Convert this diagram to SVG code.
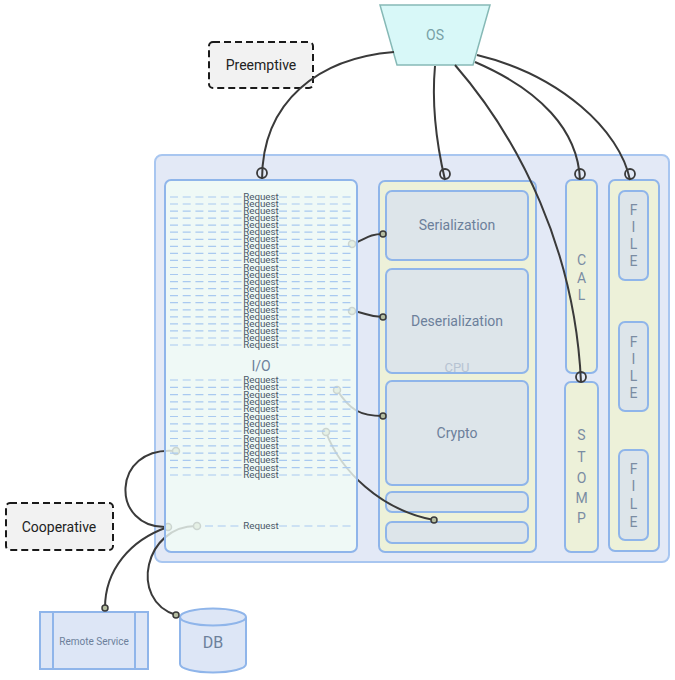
<svg xmlns="http://www.w3.org/2000/svg" width="675" height="680" viewBox="0 0 675 680">
<style>
text{font-family:Roboto,"Liberation Sans",sans-serif;}
.box{stroke:#8fb5ea;stroke-width:2;}
.yel{fill:#edf1d9;}
.inner{fill:#dde5ea;}
.lbl{fill:#6c809b;font-size:14px;text-anchor:middle;}
.vl{fill:#7a8ca3;font-size:14px;text-anchor:middle;}
.note{fill:#f2f2f2;stroke:#1a1a1a;stroke-width:2;stroke-dasharray:7 4;}
.notet{fill:#222;font-size:14px;text-anchor:middle;}
.con{fill:none;stroke:#3a3a3a;stroke-width:2;}
.ring{fill:none;stroke:#3a3a3a;stroke-width:1.8;}
.dot{fill:#b5bda0;stroke:#3a3a3a;stroke-width:1.5;}
.dash{stroke:#a9c9f0;stroke-width:1.2;stroke-dasharray:8 4.7;}
.req{fill:#4a5869;font-size:9.8px;text-anchor:middle;}
</style>

<g id="container">
<rect x="155" y="155" width="514" height="407" rx="7" fill="#e3e9f6" stroke="#a8c6f0" stroke-width="2"/>
</g>

<g id="os">
<polygon points="380,5 490,5 473,65 397,65" fill="#d8f8f8" stroke="#86b9b6" stroke-width="1.5"/>
<text x="435" y="40" fill="#77a0a6" font-size="14" text-anchor="middle">OS</text>
</g>

<g id="preemptive">
<rect x="209" y="42" width="104" height="46" rx="4" class="note"/>
<text x="261" y="70" class="notet">Preemptive</text>
</g>

<g id="cooperative">
<rect x="6" y="503" width="107" height="47" rx="4" class="note"/>
<text x="59" y="532" class="notet">Cooperative</text>
</g>

<g id="cpu">
<rect x="379" y="181" width="157" height="371" rx="6" class="box yel"/>
<g id="serialization">
<rect x="386" y="191" width="142" height="69" rx="6" class="box inner"/>
<text x="457" y="230" class="lbl">Serialization</text>
</g>
<g id="deserialization">
<rect x="386" y="269" width="142" height="104" rx="6" class="box inner"/>
<text x="457" y="326" class="lbl">Deserialization</text>
</g>
<g id="crypto">
<rect x="386" y="381" width="142" height="104" rx="6" class="box inner"/>
<text x="457" y="438" class="lbl">Crypto</text>
</g>
<g id="cpu-slot1">
<rect x="386" y="492" width="142" height="20" rx="6" class="box inner"/>
</g>
<g id="cpu-slot2">
<rect x="386" y="522" width="142" height="21" rx="6" class="box inner"/>
</g>
<text x="457" y="372" fill="#b6c3d2" font-size="13" text-anchor="middle">CPU</text>
</g>

<g id="cal">
<rect x="566" y="180" width="31" height="193" rx="6" class="box yel"/>
<text x="581.5" y="265" class="vl">C</text>
<text x="581.5" y="283" class="vl">A</text>
<text x="581.5" y="300" class="vl">L</text>
</g>
<g id="stomp">
<rect x="565" y="382" width="33" height="170" rx="6" class="box yel"/>
<text x="581.5" y="440" class="vl">S</text>
<text x="581.5" y="462" class="vl">T</text>
<text x="581.5" y="483" class="vl">O</text>
<text x="581.5" y="503" class="vl">M</text>
<text x="581.5" y="523" class="vl">P</text>
</g>
<g id="files">
<rect x="609" y="180" width="50" height="371" rx="6" class="box yel"/>
</g>
<g id="file1">
<rect x="619" y="191" width="29" height="89" rx="6" class="box inner"/>
<text x="633.5" y="215" class="vl">F</text>
<text x="633.5" y="232" class="vl">I</text>
<text x="633.5" y="249" class="vl">L</text>
<text x="633.5" y="266" class="vl">E</text>
</g>
<g id="file2">
<rect x="619" y="322" width="29" height="89" rx="6" class="box inner"/>
<text x="633.5" y="347" class="vl">F</text>
<text x="633.5" y="364" class="vl">I</text>
<text x="633.5" y="381" class="vl">L</text>
<text x="633.5" y="398" class="vl">E</text>
</g>
<g id="file3">
<rect x="619" y="450" width="29" height="90" rx="6" class="box inner"/>
<text x="633.5" y="474" class="vl">F</text>
<text x="633.5" y="491" class="vl">I</text>
<text x="633.5" y="509" class="vl">L</text>
<text x="633.5" y="527" class="vl">E</text>
</g>

<g id="remote-service">
<rect x="40" y="612" width="108" height="57" fill="#dde6f6" stroke="#8fb5ea" stroke-width="2"/>
<line x1="53" y1="612" x2="53" y2="669" stroke="#8fb5ea" stroke-width="2"/>
<line x1="135" y1="612" x2="135" y2="669" stroke="#8fb5ea" stroke-width="2"/>
<text x="94" y="645" fill="#6c809b" font-size="10" text-anchor="middle">Remote Service</text>
</g>

<g id="db">
<path d="M180 617 L180 664 A33 8.5 0 0 0 246 664 L246 617" fill="#dde6f6" stroke="#8fb5ea" stroke-width="2"/>
<ellipse cx="213" cy="617" rx="33" ry="8.5" fill="#dde6f6" stroke="#8fb5ea" stroke-width="2"/>
<text x="213" y="648" fill="#6c809b" font-size="16" text-anchor="middle">DB</text>
</g>

<g id="connectors">
<path class="con" d="M394 52 C320 58 262 100 262 180"/>
<circle class="ring" cx="262" cy="173" r="5"/>
<path class="con" d="M435 66 C431 110 438 150 445 180"/>
<circle class="ring" cx="445" cy="174" r="5"/>
<path class="con" d="M455 65 C520 140 575 250 581 382"/>
<circle class="ring" cx="581" cy="377" r="5"/>
<path class="con" d="M475 62 C540 90 578 130 580 180"/>
<circle class="ring" cx="580" cy="174" r="5"/>
<path class="con" d="M477 55 C560 75 620 130 630 180"/>
<circle class="ring" cx="630" cy="174" r="5"/>
<path class="con" d="M176 451 C110 445 110 530 168 527"/>
<circle class="dot" cx="176" cy="451" r="3.5"/>
<path class="con" d="M168 527 C130 540 105 570 105 608"/>
<circle class="dot" cx="168" cy="527" r="3.5"/>
<circle class="dot" cx="105" cy="608" r="3"/>
<path class="con" d="M197 526 C145 525 128 600 176 615"/>
<circle class="dot" cx="197" cy="526" r="3.5"/>
<circle class="dot" cx="176" cy="615" r="3"/>
<path class="con" d="M352 244 C365 240 368 234 383 234"/>
<circle class="dot" cx="352" cy="244" r="3.5"/>
<circle class="dot" cx="383" cy="234" r="3"/>
<path class="con" d="M352 311 C365 312 368 317 383 317"/>
<circle class="dot" cx="352" cy="311" r="3.5"/>
<circle class="dot" cx="383" cy="317" r="3"/>
<path class="con" d="M337 390 C350 410 360 416 383 416"/>
<circle class="dot" cx="337" cy="390" r="3.5"/>
<circle class="dot" cx="383" cy="416" r="3"/>
<path class="con" d="M326 432 C340 470 380 510 434 520"/>
<circle class="dot" cx="326" cy="432" r="3.5"/>
<circle class="dot" cx="434" cy="520" r="3"/>
</g>

<g id="io">
<rect x="165" y="180" width="192" height="372" rx="6" fill="#f1fcf6" fill-opacity="0.8" stroke="#8fb5ea" stroke-width="2"/>
<text x="261" y="371" class="lbl">I/O</text>
<g id="requests">
<path class="dash" d="M170 197H244M279 197H352M170 204H244M279 204H352M170 211.1H244M279 211.1H352M170 218.1H244M279 218.1H352M170 225.2H244M279 225.2H352M170 232.2H244M279 232.2H352M170 239.3H244M279 239.3H352M170 246.3H244M279 246.3H352M170 253.4H244M279 253.4H352M170 260.4H244M279 260.4H352M170 267.5H244M279 267.5H352M170 274.5H244M279 274.5H352M170 281.6H244M279 281.6H352M170 288.6H244M279 288.6H352M170 295.7H244M279 295.7H352M170 302.7H244M279 302.7H352M170 309.8H244M279 309.8H352M170 316.8H244M279 316.8H352M170 323.9H244M279 323.9H352M170 330.9H244M279 330.9H352M170 338H244M279 338H352M170 345H244M279 345H352"/>
<path class="dash" d="M170 380H244M279 380H352M170 387.3H244M279 387.3H352M170 394.6H244M279 394.6H352M170 401.9H244M279 401.9H352M170 409.2H244M279 409.2H352M170 416.5H244M279 416.5H352M170 423.8H244M279 423.8H352M170 431.2H244M279 431.2H352M170 438.5H244M279 438.5H352M170 445.8H244M279 445.8H352M170 453.1H244M279 453.1H352M170 460.4H244M279 460.4H352M170 467.7H244M279 467.7H352M170 475H244M279 475H352M205 526H244M279 526H352"/>
<text class="req" x="261" y="200">Request</text>
<text class="req" x="261" y="207">Request</text>
<text class="req" x="261" y="214.1">Request</text>
<text class="req" x="261" y="221.1">Request</text>
<text class="req" x="261" y="228.2">Request</text>
<text class="req" x="261" y="235.2">Request</text>
<text class="req" x="261" y="242.3">Request</text>
<text class="req" x="261" y="249.3">Request</text>
<text class="req" x="261" y="256.4">Request</text>
<text class="req" x="261" y="263.4">Request</text>
<text class="req" x="261" y="270.5">Request</text>
<text class="req" x="261" y="277.5">Request</text>
<text class="req" x="261" y="284.6">Request</text>
<text class="req" x="261" y="291.6">Request</text>
<text class="req" x="261" y="298.7">Request</text>
<text class="req" x="261" y="305.7">Request</text>
<text class="req" x="261" y="312.8">Request</text>
<text class="req" x="261" y="319.8">Request</text>
<text class="req" x="261" y="326.9">Request</text>
<text class="req" x="261" y="333.9">Request</text>
<text class="req" x="261" y="341">Request</text>
<text class="req" x="261" y="348">Request</text>
<text class="req" x="261" y="383">Request</text>
<text class="req" x="261" y="390.3">Request</text>
<text class="req" x="261" y="397.6">Request</text>
<text class="req" x="261" y="404.9">Request</text>
<text class="req" x="261" y="412.2">Request</text>
<text class="req" x="261" y="419.5">Request</text>
<text class="req" x="261" y="426.8">Request</text>
<text class="req" x="261" y="434.2">Request</text>
<text class="req" x="261" y="441.5">Request</text>
<text class="req" x="261" y="448.8">Request</text>
<text class="req" x="261" y="456.1">Request</text>
<text class="req" x="261" y="463.4">Request</text>
<text class="req" x="261" y="470.7">Request</text>
<text class="req" x="261" y="478">Request</text>
<text class="req" x="261" y="529">Request</text>
</g>
</g>
</svg>
